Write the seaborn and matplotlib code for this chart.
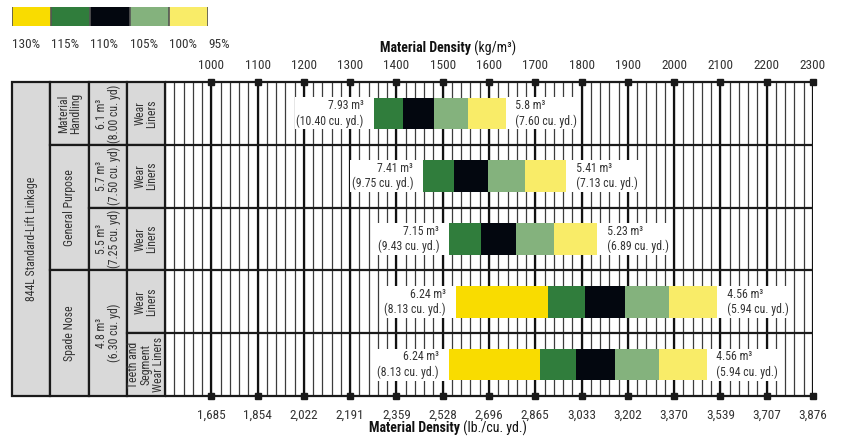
import numpy as np
import pandas as pd
import matplotlib.pyplot as plt
import seaborn as sns
from matplotlib.patches import Rectangle

# rows of the chart (top to bottom)
rows = ["mh_61", "gp_57", "gp_55", "sn_48_wl", "sn_48_tsw"]

# material density (kg/m3) where each fill factor starts / ends
edge_130 = [np.nan, np.nan, np.nan, 1529, 1513]
edge_115 = [1351, 1458, 1514, 1728, 1710]
edge_110 = [1414, 1525, 1583, 1807, 1788]
edge_105 = [1482, 1597, 1658, 1893, 1873]
edge_100 = [1554, 1678, 1741, 1988, 1967]
edge_95 = [1636, 1766, 1833, 2092, 2070]

fill_labels = ["130%", "115%", "110%", "105%", "100%", "95%"]
seg_colors = ["#F9DC00", "#307D3C", "#03070F", "#84B27D", "#F9EC68"]

left_m3 = ["7.93", "7.41", "7.15", "6.24", "6.24"]
left_yd = ["10.40", "9.75", "9.43", "8.13", "8.13"]
right_m3 = ["5.8", "5.41", "5.23", "4.56", "4.56"]
right_yd = ["7.60", "7.13", "6.89", "5.94", "5.94"]

kg_ticks = [1000, 1100, 1200, 1300, 1400, 1500, 1600, 1700, 1800, 1900, 2000, 2100, 2200, 2300]
lb_labels = ["1,685", "1,854", "2,022", "2,191", "2,359", "2,528", "2,696", "2,865",
             "3,033", "3,202", "3,370", "3,539", "3,707", "3,876"]

# left-hand table
linkage_label = "844L Standard-Lift Linkage"
app_labels = ["Material\nHandling", "General Purpose", "Spade Nose"]
app_spans = [(0, 0), (1, 2), (3, 4)]
size_labels = ["6.1 m³\n(8.00 cu. yd)", "5.7 m³\n(7.50 cu. yd)", "5.5 m³\n(7.25 cu. yd)", "4.8 m³\n(6.30 cu. yd)"]
size_spans = [(0, 0), (1, 1), (2, 2), (3, 4)]
liner_labels = ["Wear\nLiners", "Wear\nLiners", "Wear\nLiners", "Wear\nLiners", "Teeth and\nSegment\nWear Liners"]

sns.set_style("white")
plt.rcParams["font.family"] = ["Roboto Condensed", "Roboto", "DejaVu Sans"]
plt.rcParams["text.color"] = "#333333"
plt.rcParams["xtick.color"] = "#333333"

TXT = "#333333"
LINE = "#1a1a1a"
W, H = 842, 436

def px_box(x0, y0, x1, y1):
    return [x0 / W, 1 - y1 / H, (x1 - x0) / W, (y1 - y0) / H]

fig = plt.figure(figsize=(8.42, 4.36), dpi=100)
ax = fig.add_axes(px_box(165, 82, 813, 396))
tab = fig.add_axes(px_box(12, 82, 165, 396))
leg = fig.add_axes(px_box(12, 7, 208, 26))

# grid
ax.vlines(np.arange(900, 2301, 20), -0.5, 4.5, color="#3c3c3c", lw=0.9, zorder=0)
ax.vlines(kg_ticks, -0.5, 4.5, color="#111111", lw=1.6, zorder=0)
ax.hlines(np.arange(-0.5, 5), 900, 2300, color=LINE, lw=1.6, zorder=1, clip_on=False)

# stacked fill-factor bars
edges = [edge_130, edge_115, edge_110, edge_105, edge_100, edge_95]
for k in range(5):
    seg = pd.DataFrame({"row": rows, "start": edges[k], "end": edges[k + 1]}).dropna()
    seg["width"] = seg["end"] - seg["start"]
    sns.barplot(data=seg, x="width", y="row", order=rows, orient="h",
                color=seg_colors[k], saturation=1, width=0.5, errorbar=None,
                left=seg["start"].to_numpy(), linewidth=0, zorder=2, ax=ax)

start_all = np.where(np.isnan(edge_130), edge_115, edge_130)
box = dict(boxstyle="square,pad=0.15", fc="white", ec="none")
for i in range(len(rows)):
    ax.annotate(f"{left_m3[i]} m³   \n({left_yd[i]} cu. yd.)   ", xy=(start_all[i], i),
                xytext=(-1.3, 0), textcoords="offset points", ha="right", va="center",
                multialignment="right", fontsize=8.5, color=TXT, bbox=box, zorder=3)
    ax.annotate(f"   {right_m3[i]} m³\n   ({right_yd[i]} cu. yd.)", xy=(edge_95[i], i),
                xytext=(1.3, 0), textcoords="offset points", ha="left", va="center",
                multialignment="left", fontsize=8.5, color=TXT, bbox=box, zorder=3)

ax.set_xlim(900, 2300)
ax.set_ylim(4.5, -0.5)
ax.set_yticks([])
ax.set_xlabel("")
ax.set_ylabel("")
ax.set_xticks(kg_ticks, lb_labels)
ax.tick_params(axis="x", length=0, pad=9, labelsize=9.5, labelcolor=TXT)
for s in ax.spines.values():
    s.set_visible(False)

sec = ax.secondary_xaxis("top")
sec.set_xticks(kg_ticks, [str(t) for t in kg_ticks])
sec.tick_params(length=0, pad=7, labelsize=9.5, labelcolor=TXT)
sec.spines["top"].set_visible(False)

# square tick markers on top and bottom lines
ax.plot(kg_ticks, [0] * len(kg_ticks), "s", ms=5, color=LINE,
        transform=ax.get_xaxis_transform(), clip_on=False, zorder=5)
ax.plot(kg_ticks, [1] * len(kg_ticks), "s", ms=5, color=LINE,
        transform=ax.get_xaxis_transform(), clip_on=False, zorder=5)

# axis titles: bold part + normal part
t_top = fig.text(380 / W, 1 - 48 / H, "Material Density", ha="left", va="center",
                 fontsize=10, weight="bold", color="#111111")
fig.add_artist(plt.Annotation(" (kg/m³)", xy=(1, 0.5), xycoords=t_top, ha="left", va="center",
                              fontsize=10, color="#111111"))
t_bot = fig.text(369 / W, 1 - 428 / H, "Material Density", ha="left", va="center",
                 fontsize=10, weight="bold", color="#111111")
fig.add_artist(plt.Annotation(" (lb./cu. yd.)", xy=(1, 0.5), xycoords=t_bot, ha="left", va="center",
                              fontsize=10, color="#111111"))

# table on the left
tab.set_xlim(0, 4)
tab.set_ylim(4.5, -0.5)
tab.axis("off")

def cell(col, r0, r1, text):
    tab.add_patch(Rectangle((col, r0 - 0.5), 1, r1 - r0 + 1, fc="#d9d9d9", ec=LINE,
                            lw=1.6, clip_on=False))
    tab.text(col + 0.5, (r0 + r1) / 2, text, rotation=90, ha="center", va="center",
             multialignment="center", fontsize=8.5, color=TXT, linespacing=0.95)

cell(0, 0, 4, linkage_label)
for lab, (a, b) in zip(app_labels, app_spans):
    cell(1, a, b, lab)
for lab, (a, b) in zip(size_labels, size_spans):
    cell(2, a, b, lab)
for i, lab in enumerate(liner_labels):
    cell(3, i, i, lab)

# fill factor legend
leg.barh(0, [1] * 5, left=range(5), height=1, color=seg_colors, lw=0)
leg.vlines(range(6), -0.5, 0.5, color="#555555", lw=1.2)
leg.set_xlim(0, 5)
leg.set_ylim(-0.5, 0.5)
leg.set_yticks([])
leg.set_xticks(range(6), fill_labels, ha="left")
leg.tick_params(axis="x", length=2, width=1.2, color="#555555", pad=7, labelsize=9.5, labelcolor=TXT)
for s in leg.spines.values():
    s.set_visible(False)

fig.savefig("out.png", dpi=100)
